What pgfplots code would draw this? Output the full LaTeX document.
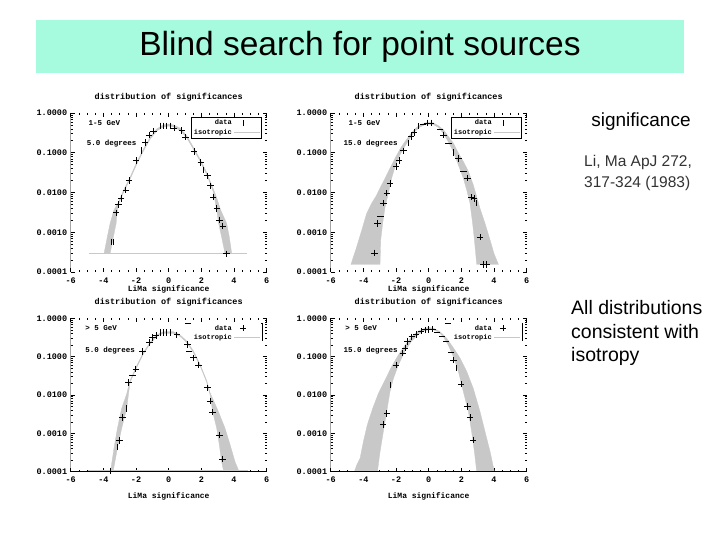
\documentclass[border=0pt]{standalone}
\usepackage{fontspec}
\setmainfont{Liberation Sans}
\newfontfamily\plotfont{Liberation Mono}[BoldFont={* Bold}]
\usepackage{pgfplots}
\pgfplotsset{compat=1.18}
\definecolor{titlebg}{HTML}{A6FBDF}
\definecolor{band}{HTML}{C8C8C8}

% y axis is in log10 units (ymin=-4 -> 0.0001, ymax=0 -> 1.0000)
\pgfplotsset{
  sig/.style={
    scale only axis, width=196pt,
    xmin=-6, xmax=6, ymin=-4, ymax=0,
    xtick={-6,-4,...,6}, xticklabels={-6,-4,-2,0,2,4,6},
    minor xtick={-5.5,-5,...,5.5},
    ytick={-4,-3,-2,-1,0},
    yticklabels={0.0001,0.0010,0.0100,0.1000,1.0000},
    minor ytick={-3.699,-3.523,-3.398,-3.301,-3.222,-3.155,-3.097,-3.046,
                 -2.699,-2.523,-2.398,-2.301,-2.222,-2.155,-2.097,-2.046,
                 -1.699,-1.523,-1.398,-1.301,-1.222,-1.155,-1.097,-1.046,
                 -0.699,-0.523,-0.398,-0.301,-0.222,-0.155,-0.097,-0.046},
    tick align=inside, major tick length=4pt, minor tick length=2pt,
    tick style={black, line width=0.6pt},
    axis line style={draw=none},
    ticklabel style={font=\plotfont\bfseries\fontsize{8.5}{9}\selectfont},
    xticklabel style={yshift=-2pt},
    title={distribution of significances},
    title style={font=\plotfont\bfseries\fontsize{8.5}{9}\selectfont, at={(0.5,1)}, anchor=center, yshift=10pt},
    xlabel={LiMa significance},
    xlabel style={font=\plotfont\bfseries\fontsize{8}{9}\selectfont, at={(0.5,0)}, anchor=center},
    legend style={at={(0.975,0.975)}, anchor=north east,
      font=\plotfont\bfseries\fontsize{7}{7}\selectfont, draw=black, line width=0.6pt,
      inner sep=0.5pt, row sep=-1pt, legend cell align=right},
    legend plot pos=right,
  },
  pts/.style={scatter, only marks, scatter src=explicit symbolic,
    scatter/classes={p={mark=+,black}, v={mark=|,black}, h={mark=-,black}},
    mark size=3.2pt, line width=0.7pt, black, forget plot},
  bandfill/.style={fill=band, draw=band, line width=0.3pt, forget plot},
}
\tikzset{note/.style={anchor=west, font=\plotfont\bfseries\fontsize{7.5}{8}\selectfont, inner sep=0pt}}

\begin{document}
\begin{tikzpicture}
\fill[white, use as bounding box] (0,0) rectangle (720pt,540pt);

% title bar
\fill[titlebg] (36pt,467pt) rectangle (684pt,520pt);
\node[font=\fontsize{33.5}{36}\selectfont] at (360pt,493pt) {Blind search for point sources};

% ---------- top left: 1-5 GeV, 5.0 degrees ----------
\begin{axis}[sig, height=159pt, at={(70.7pt,268pt)}, anchor=south west,
  xlabel style={yshift=-17pt}]
\addplot[bandfill] coordinates {
 (-3.96,-3.54) (-3.76,-3.12) (-3.59,-2.78) (-3.35,-2.44) (-3.08,-2.25) (-2.78,-1.96)
 (-2.37,-1.62) (-1.96,-1.24) (-1.55,-0.91) (-1.14,-0.61) (-0.73,-0.40) (-0.33,-0.30)
 (0,-0.28) (0.29,-0.30) (0.69,-0.38) (1.10,-0.57) (1.51,-0.86) (1.92,-1.16)
 (2.33,-1.50) (2.73,-1.91) (2.94,-2.14) (3.18,-2.44) (3.55,-2.78) (3.71,-3.12)
 (3.86,-3.54) (3.45,-3.54) (3.24,-3.12) (3.06,-2.78) (2.94,-2.44) (2.73,-1.98)
 (2.33,-1.55) (1.92,-1.21) (1.51,-0.91) (1.10,-0.62) (0.69,-0.43) (0.29,-0.35)
 (0,-0.33) (-0.33,-0.35) (-0.73,-0.45) (-1.14,-0.66) (-1.55,-0.96) (-1.96,-1.29)
 (-2.37,-1.67) (-2.78,-2.01) (-3.08,-2.30) (-3.14,-2.44) (-3.22,-2.78) (-3.39,-3.12)
 (-3.59,-3.54)} -- cycle;
\addplot[band, line width=0.6pt, forget plot] coordinates {(-4.9,-3.54) (4.78,-3.54)};
\addplot[pts] table[meta=c] {
x y c
-3.53 -3.24 v
-3.41 -3.24 v
-3.22 -2.51 p
-3.08 -2.30 p
-2.92 -2.15 p
-2.63 -1.94 p
-2.43 -1.70 p
-2.00 -1.20 p
-1.69 -0.94 v
-1.45 -0.74 p
-1.20 -0.55 p
-0.94 -0.46 p
-0.53 -0.32 v
-0.33 -0.32 v
-0.12 -0.32 v
0.08 -0.32 v
0.33 -0.38 p
0.80 -0.44 p
1.04 -0.61 p
1.55 -0.97 p
1.96 -1.25 p
2.12 -1.43 v
2.37 -1.58 p
2.57 -1.83 p
2.73 -2.11 p
2.94 -2.40 p
3.10 -2.69 p
3.31 -2.84 p
3.55 -3.54 p
};
\addlegendimage{only marks, mark=|, black, mark size=3pt, line width=0.7pt}
\addlegendentry{data}
\addlegendimage{legend image code/.code={\draw[band, line width=1.2pt] (0pt,0pt) -- (26pt,0pt);}}
\addlegendentry{isotropic}
\node[note] at (axis cs:-4.92,-0.25) {1-5 GeV};
\node[note] at (axis cs:-5.02,-0.76) {5.0 degrees};
\draw[black, line width=0.8pt] (rel axis cs:0,1) -- (rel axis cs:0,0) -- (rel axis cs:1,0);
\end{axis}

% ---------- top right: 1-5 GeV, 15.0 degrees ----------
\begin{axis}[sig, height=159pt, at={(330.7pt,268pt)}, anchor=south west,
  xlabel style={yshift=-17pt}]
\addplot[bandfill] coordinates {
 (-4.76,-3.81) (-4.41,-3.37) (-4.10,-2.95) (-3.80,-2.53) (-3.49,-2.27) (-3.22,-2.09)
 (-2.98,-1.89) (-2.67,-1.64) (-2.37,-1.39) (-2.06,-1.14) (-1.76,-0.91) (-1.45,-0.72)
 (-1.14,-0.55) (-0.84,-0.40) (-0.53,-0.30) (-0.22,-0.25) (0,-0.24)
 (0.29,-0.25) (0.59,-0.32) (0.90,-0.42) (1.20,-0.59) (1.51,-0.76) (1.82,-1.01)
 (2.12,-1.22) (2.43,-1.47) (2.73,-1.81) (2.94,-2.11) (3.14,-2.40) (3.45,-2.78)
 (3.76,-3.20) (4.00,-3.54) (4.27,-3.81)
 (2.94,-3.81) (2.80,-3.20) (2.69,-2.78) (2.53,-2.27) (2.33,-1.94) (2.12,-1.64)
 (1.82,-1.31) (1.51,-0.97) (1.20,-0.72) (0.90,-0.51) (0.59,-0.36) (0.29,-0.29) (0,-0.28)
 (-0.22,-0.29) (-0.53,-0.35) (-0.84,-0.46) (-1.14,-0.63) (-1.45,-0.83) (-1.76,-1.05)
 (-2.06,-1.35) (-2.27,-1.64) (-2.47,-2.02) (-2.67,-2.36) (-2.82,-2.78) (-2.94,-3.20)
 (-2.98,-3.81)} -- cycle;
\addplot[pts] table[meta=c] {
x y c
-3.33 -3.52 p
-3.14 -2.78 p
-2.94 -2.59 h
-2.76 -2.27 p
-2.57 -2.02 p
-2.37 -1.77 p
-2.00 -1.35 p
-1.82 -1.20 p
-1.55 -0.95 p
-1.24 -0.76 v
-1.08 -0.59 p
-0.90 -0.49 p
-0.63 -0.33 v
-0.35 -0.28 h
-0.08 -0.25 p
0.14 -0.25 p
0.69 -0.42 h
0.90 -0.55 p
1.20 -0.76 h
1.51 -0.99 v
1.82 -1.14 p
2.12 -1.47 h
2.37 -1.64 p
2.61 -2.12 p
2.78 -2.15 p
2.94 -2.27 v
3.14 -3.12 p
3.35 -3.81 p
3.55 -3.81 p
};
\addlegendimage{only marks, mark=|, black, mark size=3pt, line width=0.7pt}
\addlegendentry{data}
\addlegendimage{legend image code/.code={\draw[band, line width=1.2pt] (0pt,0pt) -- (26pt,0pt);}}
\addlegendentry{isotropic}
\node[note] at (axis cs:-4.92,-0.25) {1-5 GeV};
\node[note] at (axis cs:-5.22,-0.76) {15.0 degrees};
\draw[black, line width=0.8pt] (rel axis cs:0,1) -- (rel axis cs:0,0) -- (rel axis cs:1,0);
\end{axis}

% ---------- bottom left: > 5 GeV, 5.0 degrees ----------
\begin{axis}[sig, height=153.4pt, at={(70.7pt,68.3pt)}, anchor=south west,
  xlabel style={yshift=-25pt}, legend style={draw=none}]
\addplot[bandfill] coordinates {
 (-3.55,-3.96) (-3.35,-3.39) (-3.14,-2.87) (-2.88,-2.35) (-2.57,-1.97) (-2.37,-1.63)
 (-1.96,-1.24) (-1.55,-0.89) (-1.14,-0.63) (-0.73,-0.43) (-0.33,-0.35) (0,-0.35)
 (0.29,-0.35) (0.69,-0.43) (1.10,-0.59) (1.51,-0.85) (1.92,-1.20) (2.33,-1.63)
 (2.53,-1.94) (3.04,-2.43) (3.45,-2.87) (3.76,-3.30) (4.06,-3.74) (4.27,-3.96)
 (3.35,-3.96) (3.24,-3.74) (3.10,-3.30) (2.94,-2.87) (2.69,-2.43) (2.53,-1.99)
 (2.33,-1.67) (1.92,-1.24) (1.51,-0.89) (1.10,-0.63) (0.69,-0.47) (0.29,-0.39)
 (0,-0.39) (-0.33,-0.39) (-0.73,-0.47) (-1.14,-0.67) (-1.55,-0.93) (-1.96,-1.28)
 (-2.37,-1.67) (-2.57,-2.35) (-2.88,-2.87) (-3.14,-3.39) (-3.39,-3.96)} -- cycle;
\addplot[band, line width=0.6pt, forget plot] coordinates {(-4.92,-3.96) (4.88,-3.96)};
\addplot[pts] table[meta=c] {
x y c
-3.59 -3.98 p
-3.14 -3.35 v
-3.02 -3.19 p
-2.82 -2.59 p
-2.61 -2.35 v
-2.45 -1.67 p
-2.22 -1.48 h
-2.02 -1.32 p
-1.61 -0.87 p
-1.18 -0.63 p
-0.98 -0.50 p
-0.78 -0.45 p
-0.53 -0.37 v
-0.33 -0.37 v
-0.12 -0.37 v
0.08 -0.37 v
0.49 -0.43 p
1.16 -0.68 p
1.24 -0.87 h
1.51 -1.03 p
1.82 -1.22 p
2.37 -1.81 p
2.53 -2.16 p
2.69 -2.45 p
3.10 -3.04 p
3.29 -3.67 p
};
\addlegendimage{only marks, mark=+, black, mark size=3pt, line width=0.7pt}
\addlegendentry{data}
\addlegendimage{legend image code/.code={\draw[band, line width=1.2pt] (0pt,0pt) -- (26pt,0pt);}}
\addlegendentry{isotropic}
\node[note] at (axis cs:-5.12,-0.26) {> 5 GeV};
\node[note] at (axis cs:-5.12,-0.85) {5.0 degrees};
\draw[black, line width=0.6pt] (rel axis cs:0.583,0.969) -- (rel axis cs:0.975,0.969) -- (rel axis cs:0.975,0.852);
\draw[black, line width=0.8pt] (rel axis cs:0,1) -- (rel axis cs:0,0) -- (rel axis cs:1,0);
\end{axis}

% ---------- bottom right: > 5 GeV, 15.0 degrees ----------
\begin{axis}[sig, height=153.4pt, at={(330.7pt,68.3pt)}, anchor=south west,
  xlabel style={yshift=-25pt}, legend style={draw=none}]
\addplot[bandfill] coordinates {
 (-4.55,-4.00) (-4.41,-3.83) (-4.20,-3.65) (-4.00,-3.22) (-3.76,-2.78) (-3.43,-2.35)
 (-3.08,-1.96) (-2.67,-1.61) (-2.27,-1.26) (-1.86,-0.96) (-1.45,-0.70) (-1.04,-0.48)
 (-0.63,-0.33) (-0.22,-0.26) (0,-0.24)
 (0.29,-0.26) (0.69,-0.35) (1.10,-0.52) (1.51,-0.77) (1.92,-1.04) (2.33,-1.39)
 (2.73,-1.83) (3.14,-2.43) (3.45,-2.96) (3.76,-3.48) (4.02,-4.00)
 (2.94,-4.00) (2.80,-3.48) (2.63,-2.96) (2.43,-2.43) (2.12,-1.91) (1.82,-1.39)
 (1.51,-1.00) (1.20,-0.70) (0.90,-0.48) (0.59,-0.35) (0.29,-0.30) (0,-0.30)
 (-0.33,-0.33) (-0.63,-0.42) (-1.04,-0.59) (-1.45,-0.85) (-1.86,-1.22) (-2.16,-1.57)
 (-2.37,-1.91) (-2.57,-2.43) (-2.78,-2.96) (-2.98,-3.48) (-3.14,-4.00)} -- cycle;
\addplot[pts] table[meta=c] {
x y c
-3.08 -4.00 h
-2.78 -2.77 p
-2.57 -2.48 p
-2.37 -1.74 v
-2.00 -1.22 p
-1.59 -0.91 p
-1.45 -0.78 p
-1.31 -0.61 p
-1.04 -0.48 p
-0.78 -0.42 p
-0.47 -0.33 p
-0.22 -0.30 p
0.00 -0.29 p
0.24 -0.28 p
0.49 -0.37 h
0.80 -0.48 h
1.06 -0.61 h
1.37 -0.89 h
1.51 -1.09 p
1.71 -1.30 v
1.98 -1.72 p
2.37 -2.30 p
2.53 -2.59 p
2.73 -3.17 p
};
\addlegendimage{only marks, mark=+, black, mark size=3pt, line width=0.7pt}
\addlegendentry{data}
\addlegendimage{legend image code/.code={\draw[band, line width=1.2pt] (0pt,0pt) -- (26pt,0pt);}}
\addlegendentry{isotropic}
\node[note] at (axis cs:-5.12,-0.26) {> 5 GeV};
\node[note] at (axis cs:-5.22,-0.85) {15.0 degrees};
\draw[black, line width=0.6pt] (rel axis cs:0.583,0.969) -- (rel axis cs:0.975,0.969) -- (rel axis cs:0.975,0.852);
\draw[black, line width=0.8pt] (rel axis cs:0,1) -- (rel axis cs:0,0) -- (rel axis cs:1,0);
\end{axis}

% right-hand text
\node[font=\fontsize{19}{22}\selectfont] at (641pt,418pt) {significance};
\node[anchor=west, inner sep=0pt, text=black!80, font=\fontsize{15.5}{18}\selectfont] at (584pt,377pt) {Li, Ma ApJ 272,};
\node[anchor=west, inner sep=0pt, text=black!80, font=\fontsize{15.5}{18}\selectfont] at (584pt,357pt) {317-324 (1983)};
\node[anchor=west, inner sep=0pt, font=\fontsize{19.5}{22}\selectfont] at (571pt,232pt) {All distributions};
\node[anchor=west, inner sep=0pt, font=\fontsize{19.5}{22}\selectfont] at (571pt,208pt) {consistent with};
\node[anchor=west, inner sep=0pt, font=\fontsize{19.5}{22}\selectfont] at (571pt,184pt) {isotropy};
\end{tikzpicture}
\end{document}
